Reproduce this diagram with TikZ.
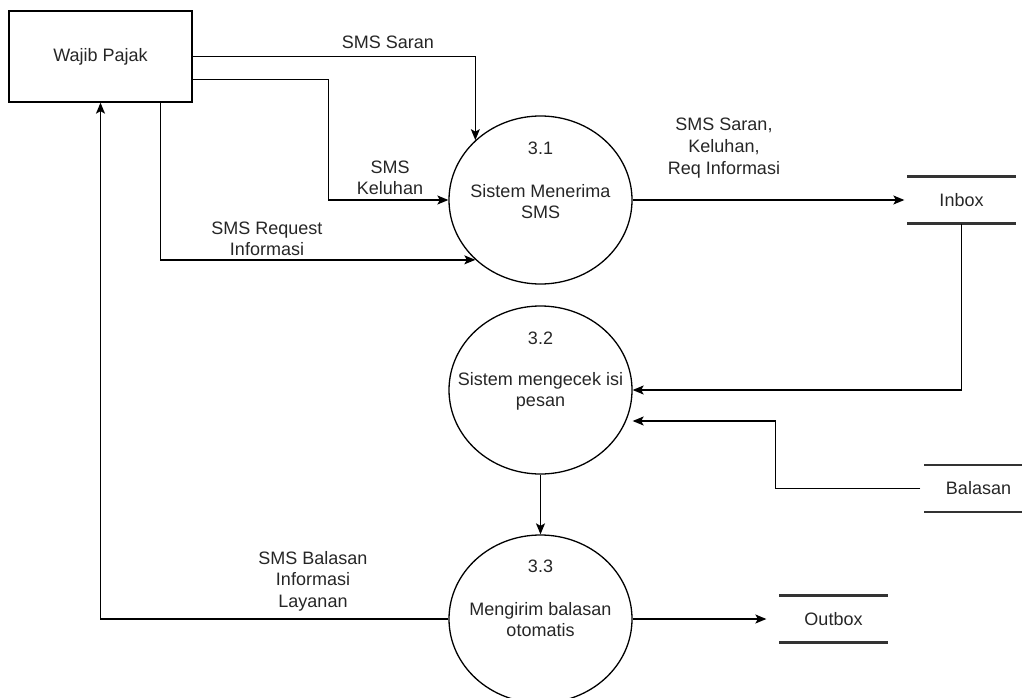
\documentclass[tikz,border=0pt]{standalone}
\usepackage{fontspec}
\setmainfont{Liberation Sans}
\usetikzlibrary{arrows.meta,shapes.geometric}
\begin{document}
\begin{tikzpicture}[x=1pt,y=-1pt,line width=1.3pt,
  txt/.style={inner sep=0pt,align=center,text=black!85,font=\fontsize{18}{21.6}\selectfont},
  proc/.style={draw,ellipse,minimum width=183pt,minimum height=168pt,inner sep=0pt},
  ent/.style={draw,txt,minimum width=183pt,minimum height=91pt},
  store/.style={txt,minimum width=107pt,minimum height=46pt,
    append after command={(\tikzlastnode.north west) edge[line width=2.6pt,black!80] (\tikzlastnode.north east)
      (\tikzlastnode.south west) edge[line width=2.6pt,black!80] (\tikzlastnode.south east)}},
  flow/.style={-{Stealth[length=11pt,width=9pt,inset=2.5pt]}}]
\useasboundingbox (0,0) rectangle (1022,698);
\node[ent] at (100.5,56.5) (wp) {Wajib Pajak};
\node[proc] at (540.5,200) (p1) {};\node[txt] at (540.5,148) (n1) {3.1};\node[txt] at (540.5,201.5) (t1) {Sistem Menerima\\SMS};
\node[proc] at (540.5,390) (p2) {};\node[txt] at (540.5,338) (n2) {3.2};\node[txt] at (540.5,391.5) (t2) {Sistem mengecek isi\\pesan};
\node[proc] at (540.5,619) (p3) {};\node[txt] at (540.5,566) (n3) {3.3};\node[txt] at (540.5,619.5) (t3) {Mengirim balasan\\otomatis};
\node[store] at (961.5,200) (in) {Inbox};
\node[store] at (978.5,488.5) (bal) {Balasan};
\node[store] at (833.5,619) (out) {Outbox};
\node[txt] at (388,42) (l1) {SMS Saran};
\node[txt] at (390,178) (l2) {SMS\\Keluhan};
\node[txt] at (267,239) (l3) {SMS Request\\Informasi};
\node[txt] at (724,148) (l4) {SMS Saran,\\Keluhan,\\Req Informasi};
\node[txt] at (313,581) (l5) {SMS Balasan\\Informasi\\Layanan};
\draw[flow] (wp.east) -| (p1.north west);
\draw[flow] ([yshift=-23pt]wp.east) -- ++(136,0) |- (p1.west);
\draw[flow] ([xshift=60pt]wp.south) |- (p1.south west);
\draw[flow,shorten >=3pt] (p1.east) -- (in.west);
\draw[flow] (in.south) |- (p2.east);
\draw[flow,shorten <=4pt] (bal.west) -- ++(-149,0) |- ([yshift=-31pt]p2.east);
\draw[flow] (p2.south) -- (p3.north);
\draw[flow] (p3.west) -| (wp.south);
\draw[flow,shorten >=13pt] (p3.east) -- (out.west);
\end{tikzpicture}
\end{document}
